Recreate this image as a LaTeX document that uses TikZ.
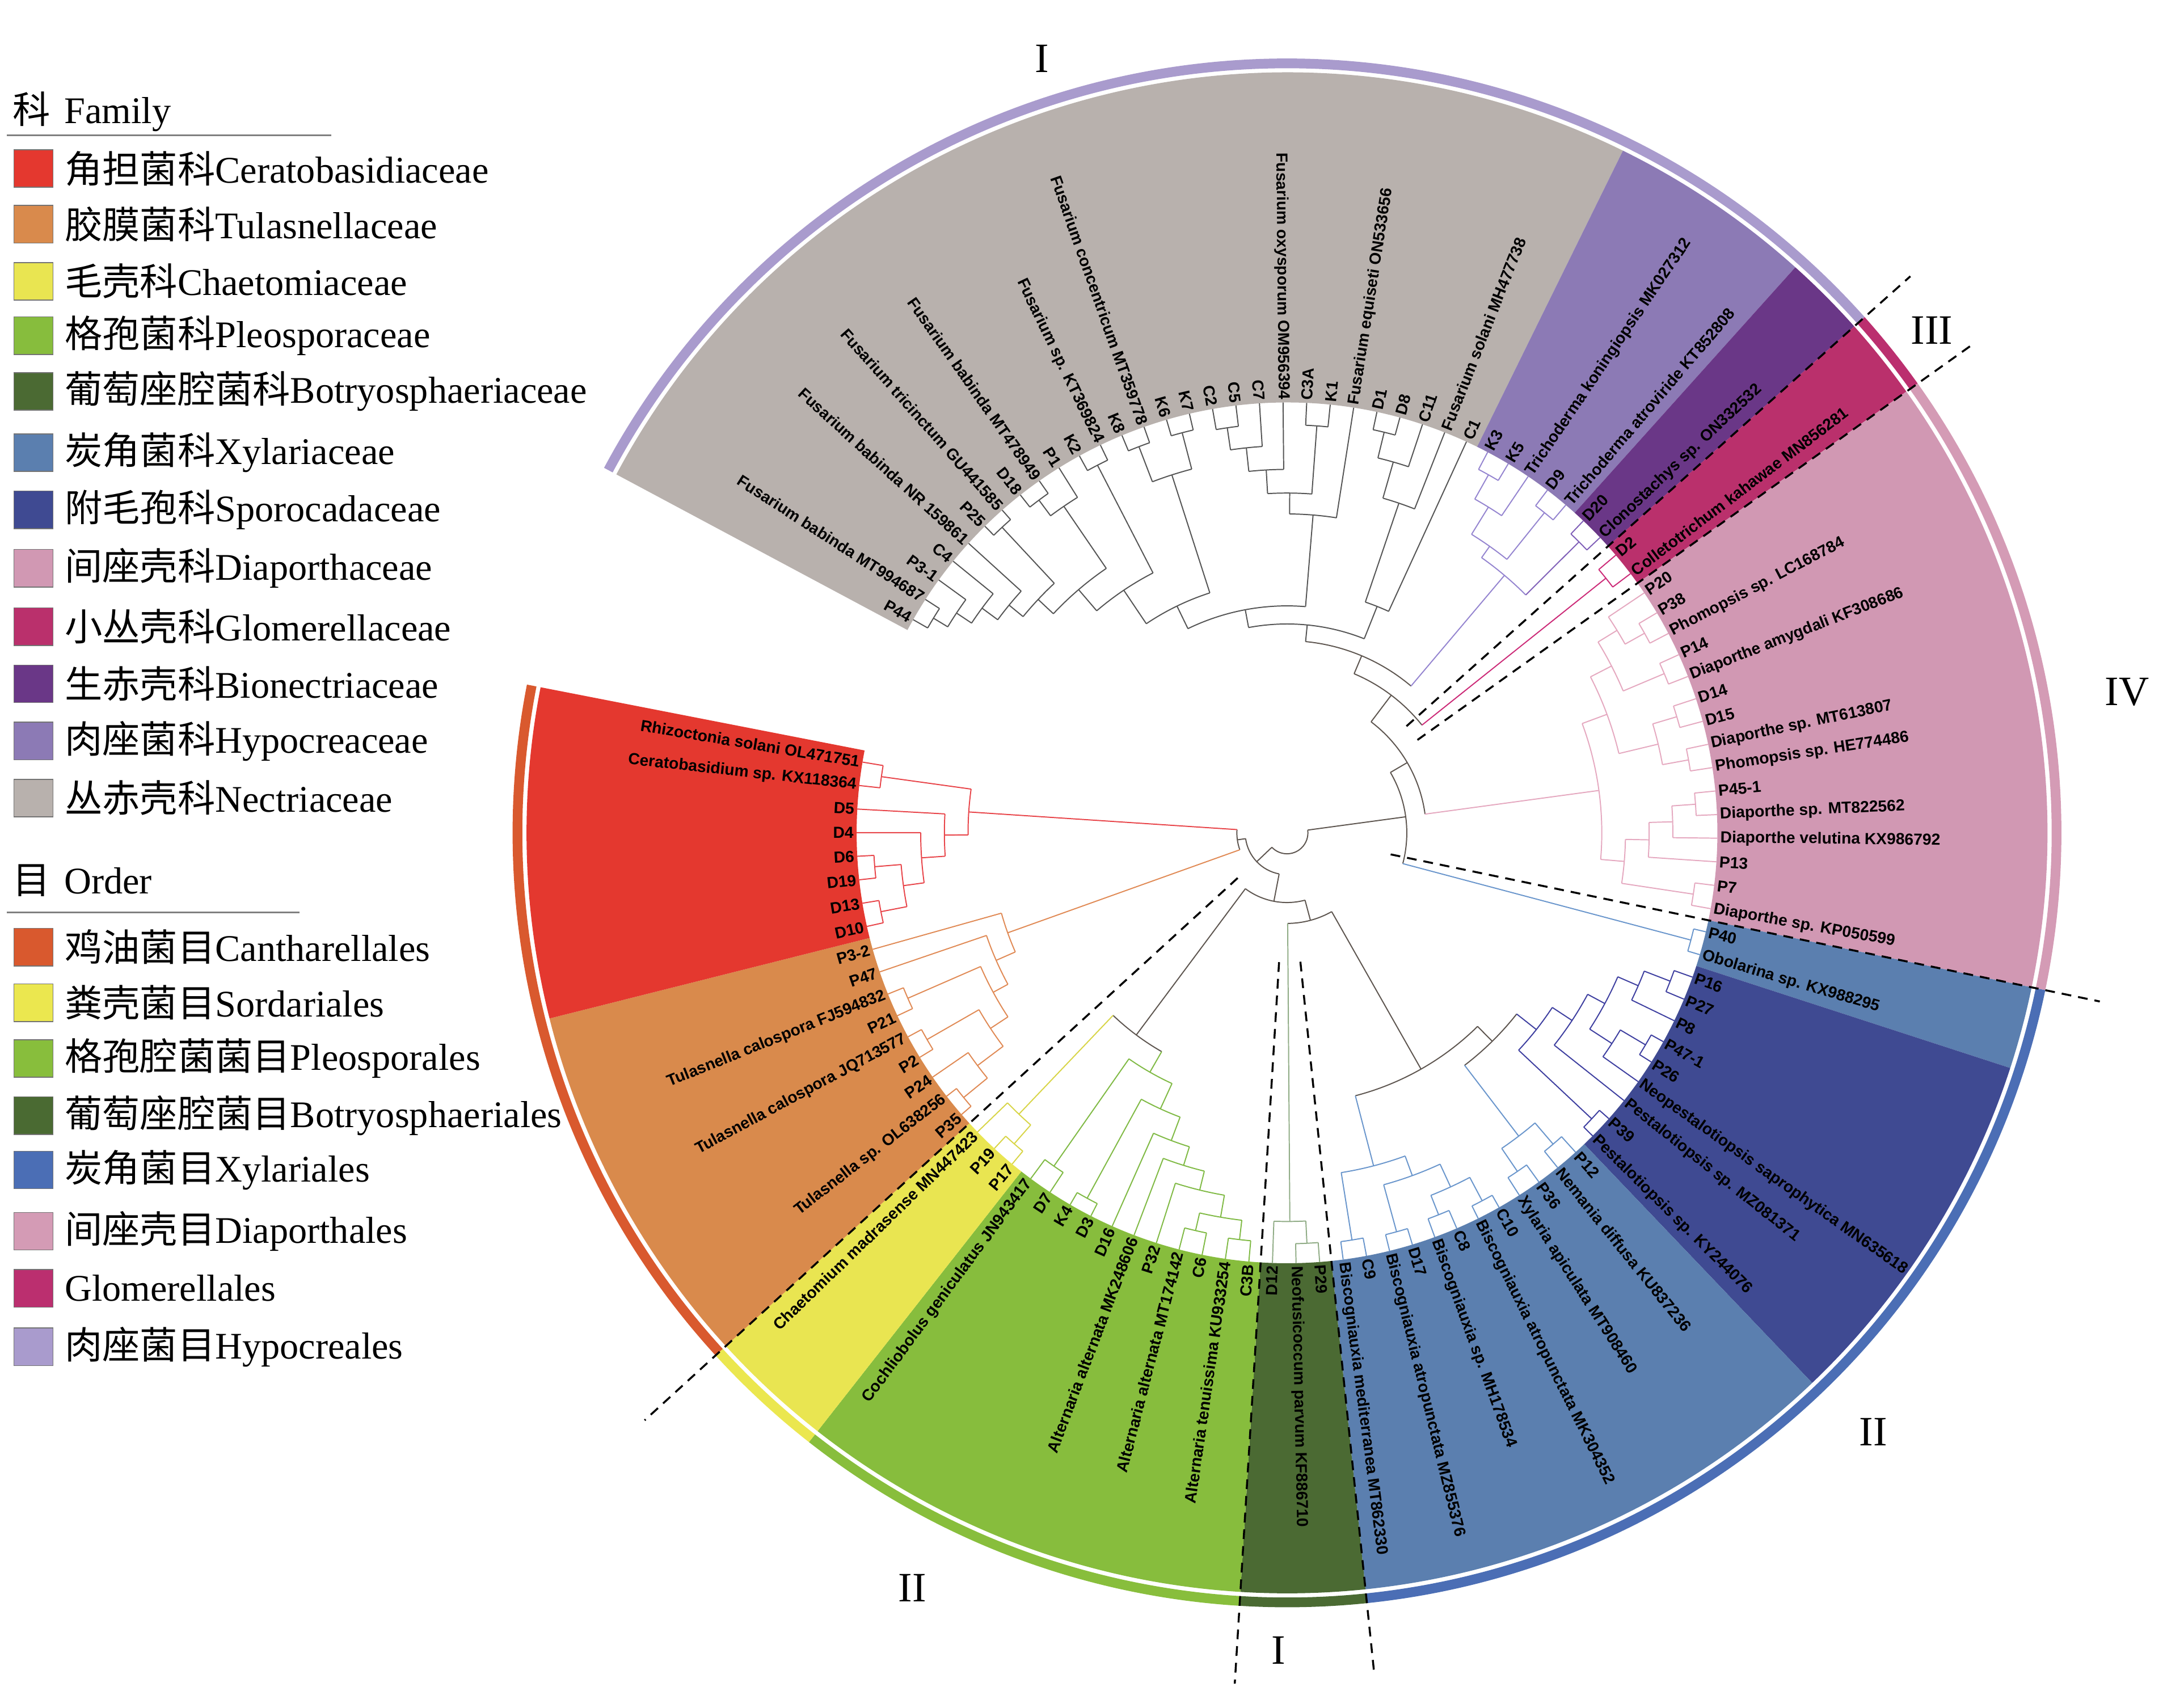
\documentclass[tikz,border=0pt]{standalone}
\usepackage{fontspec}
\setmainfont{Liberation Serif}
\setsansfont{Liberation Sans}
\newfontfamily\cjk{Noto Sans CJK SC}
\usetikzlibrary{positioning}

% family colours (sectors)
\definecolor{fCer}{HTML}{E4382F}
\definecolor{fTul}{HTML}{D98A4C}
\definecolor{fCha}{HTML}{E9E551}
\definecolor{fPle}{HTML}{87BD3D}
\definecolor{fBot}{HTML}{4B6A33}
\definecolor{fXyl}{HTML}{5B7FAF}
\definecolor{fSpo}{HTML}{3F4A92}
\definecolor{fDia}{HTML}{D198B3}
\definecolor{fGlo}{HTML}{BA306C}
\definecolor{fBio}{HTML}{6A3787}
\definecolor{fHyp}{HTML}{8C7AB5}
\definecolor{fNec}{HTML}{B8B1AD}
% order colours (outer ring)
\definecolor{oCan}{HTML}{D9592E}
\definecolor{oSor}{HTML}{EBE74F}
\definecolor{oPle}{HTML}{88BE3C}
\definecolor{oBot}{HTML}{4A6A32}
\definecolor{oXyl}{HTML}{4B6EB5}
\definecolor{oDia}{HTML}{D49BB5}
\definecolor{oGlo}{HTML}{BB2F6F}
\definecolor{oHyp}{HTML}{A99BCD}
% branch colours
\definecolor{brCer}{HTML}{E8454A}
\definecolor{brTul}{HTML}{E08A55}
\definecolor{brCha}{HTML}{D8D548}
\definecolor{brPle}{HTML}{80BA45}
\definecolor{brBot}{HTML}{90AC86}
\definecolor{brXyl}{HTML}{6A96CC}
\definecolor{brSpo}{HTML}{3E3FA0}
\definecolor{brDia}{HTML}{E5A9C0}
\definecolor{brGlo}{HTML}{CC2B78}
\definecolor{brBio}{HTML}{8060B8}
\definecolor{brHyp}{HTML}{9585D0}
\definecolor{brNec}{HTML}{555555}
\definecolor{brMix}{HTML}{5E5650}

% leaf: index, label, branch colour
\newcommand\tleaf[3]{%
  \pgfmathsetmacro\tAng{150.3-3.146*(#1-1)}%
  \expandafter\xdef\csname ta@L#1\endcsname{\tAng}%
  \expandafter\xdef\csname tc@L#1\endcsname{#3}%
  \coordinate (L#1) at (\tAng:309pt);
  \pgfmathsetmacro\tCos{cos(\tAng)}%
  \ifdim\tCos pt<0pt
    \pgfmathsetmacro\tRot{\tAng+180}%
    \node[leaflab, anchor=east, rotate=\tRot] (lab#1) at (\tAng:311pt) {#2};
  \else
    \node[leaflab, anchor=west, rotate=\tAng] (lab#1) at (\tAng:311pt) {#2};
  \fi
}
% clade: name, radius, colour, child a, child b
\newcommand\clade[5]{%
  \edef\tA{\csname ta@#4\endcsname}\edef\tB{\csname ta@#5\endcsname}%
  \edef\tCA{\csname tc@#4\endcsname}\edef\tCB{\csname tc@#5\endcsname}%
  \pgfmathsetmacro\tM{(\tA+\tB)/2}%
  \expandafter\xdef\csname ta@#1\endcsname{\tM}%
  \expandafter\xdef\csname tc@#1\endcsname{#3}%
  \coordinate (#1) at (\tM:#2pt);
  \draw[twig, #3] (\tA:#2pt) arc[start angle=\tA, end angle=\tB, radius=#2pt];
  \draw[twig, \tCA] (\tA:#2pt) -- (#4);
  \draw[twig, \tCB] (\tB:#2pt) -- (#5);
}

\begin{document}
\begin{tikzpicture}[x=1pt, y=1pt,
  leaflab/.style={font=\sffamily\bfseries\fontsize{11.5}{13}\selectfont, inner sep=0pt},
  twig/.style={line width=0.8pt},
  dashcut/.style={black, line width=1.4pt, dash pattern=on 7pt off 5pt},
  grouplab/.style={font=\fontsize{30}{32}\selectfont, inner sep=0pt},
  swatch/.style={minimum width=28pt, minimum height=27pt, inner sep=0pt, draw=black!55, line width=0.6pt},
  legtext/.style={font=\fontsize{27}{31}\selectfont, inner sep=0pt}]
\useasboundingbox (0,0) rectangle (1568,1211);

\begin{scope}[shift={(924,613)}]
% family sectors
\foreach \sa/\sb/\col in {151.873/63.785/fNec, 63.785/48.055/fHyp, 48.055/41.763/fBio,
    41.763/35.471/fGlo, 35.471/-11.719/fDia, -11.719/-18.011/fXyl, -18.011/-46.325/fSpo,
    -46.325/-84.077/fXyl, -84.077/-93.515/fBot, -93.515/-128.121/fPle,
    -128.121/-137.559/fCha, -137.559/-165.873/fTul, -165.873/-191.041/fCer}
  \fill[\col] (\sa:309pt) arc[start angle=\sa, end angle=\sb, radius=309pt]
    -- (\sb:546pt) arc[start angle=\sb, end angle=\sa, radius=546pt] -- cycle;
% order ring
\foreach \sa/\sb/\col in {151.873/41.763/oHyp, 41.763/35.471/oGlo, 35.471/-11.719/oDia,
    -11.719/-84.077/oXyl, -84.077/-93.515/oBot, -93.515/-128.121/oPle,
    -128.121/-137.559/oSor, -137.559/-191.041/oCan}
  \fill[\col] (\sa:549pt) arc[start angle=\sa, end angle=\sb, radius=549pt]
    -- (\sb:556pt) arc[start angle=\sb, end angle=\sa, radius=556pt] -- cycle;
% group borders
\foreach \sa/\ri/\ro in {-137.559/48/625, -93.515/93/612, -84.077/93/607,
    -11.719/76/596, 41.763/115/600, 35.471/115/606}
  \draw[dashcut] (\sa:\ri pt) -- (\sa:\ro pt);

% leaves
\foreach \i/\txt in {1/P44, 2/Fusarium babinda MT994687, 3/P3-1, 4/C4,
    5/Fusarium babinda NR 159861, 6/P25, 7/Fusarium tricinctum GU441585, 8/D18,
    9/Fusarium babinda MT478949, 10/P1, 11/K2, 12/Fusarium sp. KT369824, 13/K8,
    14/Fusarium concentricum MT359778, 15/K6, 16/K7, 17/C2, 18/C5, 19/C7,
    20/Fusarium oxysporum OM956394, 21/C3A, 22/K1, 23/Fusarium equiseti ON533656,
    24/D1, 25/D8, 26/C11, 27/Fusarium solani MH477738, 28/C1}
  {\tleaf{\i}{\txt}{brNec}}
\foreach \i/\txt in {29/K3, 30/K5, 31/Trichoderma koningiopsis MK027312, 32/D9,
    33/Trichoderma atroviride KT852808}
  {\tleaf{\i}{\txt}{brHyp}}
\foreach \i/\txt in {34/D20, 35/Clonostachys sp. ON332532}
  {\tleaf{\i}{\txt}{brBio}}
\foreach \i/\txt in {36/D2, 37/Colletotrichum kahawae MN856281}
  {\tleaf{\i}{\txt}{brGlo}}
\foreach \i/\txt in {38/P20, 39/P38, 40/Phomopsis sp. LC168784, 41/P14,
    42/Diaporthe amygdali KF308686, 43/D14, 44/D15, 45/Diaporthe sp. MT613807,
    46/Phomopsis sp. HE774486, 47/P45-1, 48/Diaporthe sp. MT822562,
    49/Diaporthe velutina KX986792, 50/P13, 51/P7, 52/Diaporthe sp. KP050599}
  {\tleaf{\i}{\txt}{brDia}}
\foreach \i/\txt in {53/P40, 54/Obolarina sp. KX988295}
  {\tleaf{\i}{\txt}{brXyl}}
\foreach \i/\txt in {55/P16, 56/P27, 57/P8, 58/P47-1, 59/P26,
    60/Neopestalotiopsis saprophytica MN635618, 61/Pestalotiopsis sp. MZ081371,
    62/P39, 63/Pestalotiopsis sp. KY244076}
  {\tleaf{\i}{\txt}{brSpo}}
\foreach \i/\txt in {64/P12, 65/Nemania diffusa KU837236, 66/P36,
    67/Xylaria apiculata MT908460, 68/C10, 69/Biscogniauxia atropunctata MK304352,
    70/C8, 71/Biscogniauxia sp. MH178534, 72/D17,
    73/Biscogniauxia atropunctata MZ855376, 74/C9,
    75/Biscogniauxia mediterranea MT862330}
  {\tleaf{\i}{\txt}{brXyl}}
\foreach \i/\txt in {76/P29, 77/Neofusicoccum parvum KF886710, 78/D12}
  {\tleaf{\i}{\txt}{brBot}}
\foreach \i/\txt in {79/C3B, 80/Alternaria tenuissima KU933254, 81/C6,
    82/Alternaria alternata MT174142, 83/P32, 84/Alternaria alternata MK248606,
    85/D16, 86/D3, 87/K4, 88/D7, 89/Cochliobolus geniculatus JN943417}
  {\tleaf{\i}{\txt}{brPle}}
\foreach \i/\txt in {90/P17, 91/P19, 92/Chaetomium madrasense MN447423}
  {\tleaf{\i}{\txt}{brCha}}
\foreach \i/\txt in {93/P35, 94/Tulasnella sp. OL638256, 95/P24, 96/P2,
    97/Tulasnella calospora JQ713577, 98/P21, 99/Tulasnella calospora FJ594832,
    100/P47, 101/P3-2}
  {\tleaf{\i}{\txt}{brTul}}
\foreach \i/\txt in {102/D10, 103/D13, 104/D19, 105/D6, 106/D4, 107/D5,
    108/Ceratobasidium sp. KX118364, 109/Rhizoctonia solani OL471751}
  {\tleaf{\i}{\txt}{brCer}}

% Ceratobasidiaceae
\clade{Ce1}{294}{brCer}{L109}{L108}
\clade{Ce2}{297}{brCer}{L105}{L104}
\clade{Ce3}{297}{brCer}{L103}{L102}
\clade{Ce4}{278}{brCer}{Ce2}{Ce3}
\clade{Ce5}{263}{brCer}{L106}{Ce4}
\clade{Ce6}{246}{brCer}{L107}{Ce5}
\clade{Ce7}{229}{brCer}{Ce1}{Ce6}
% Tulasnellaceae
\clade{Tu1}{300}{brTul}{L93}{L94}
\clade{Tu2}{278}{brTul}{L95}{Tu1}
\clade{Tu3}{298}{brTul}{L96}{L97}
\clade{Tu4}{255}{brTul}{Tu3}{Tu2}
\clade{Tu5}{297}{brTul}{L98}{L99}
\clade{Tu6}{240}{brTul}{Tu5}{Tu4}
\clade{Tu7}{228}{brTul}{L100}{Tu6}
\clade{Tu8}{213}{brTul}{L101}{Tu7}
% Chaetomiaceae
\clade{Ch1}{297}{brCha}{L90}{L91}
\clade{Ch2}{279}{brCha}{Ch1}{L92}
% Pleosporaceae
\clade{Pl1}{294}{brPle}{L79}{L80}
\clade{Pl2}{293}{brPle}{L81}{L82}
\clade{Pl3}{280}{brPle}{Pl2}{Pl1}
\clade{Pl4}{264}{brPle}{L83}{Pl3}
\clade{Pl5}{250}{brPle}{L84}{Pl4}
\clade{Pl6}{236}{brPle}{L85}{Pl5}
\clade{Pl7}{299}{brPle}{L86}{L87}
\clade{Pl8}{218}{brPle}{Pl7}{Pl6}
\clade{Pl9}{292}{brPle}{L88}{L89}
\clade{Pl10}{198}{brPle}{Pl9}{Pl8}
% Botryosphaeriaceae
\clade{Bo1}{295}{brBot}{L76}{L77}
\clade{Bo2}{279}{brBot}{Bo1}{L78}
% Xylariaceae
\clade{Xy1}{296}{brXyl}{L74}{L75}
\clade{Xy2}{297}{brXyl}{L72}{L73}
\clade{Xy3}{295}{brXyl}{L70}{L71}
\clade{Xy4}{299}{brXyl}{L68}{L69}
\clade{Xy5}{280}{brXyl}{Xy3}{Xy4}
\clade{Xy6}{262}{brXyl}{Xy2}{Xy5}
\clade{Xy7}{247}{brXyl}{Xy1}{Xy6}
\clade{Xy8}{294}{brXyl}{L66}{L67}
\clade{Xy9}{294}{brXyl}{L64}{L65}
\clade{Xy10}{274}{brXyl}{Xy8}{Xy9}
% Sporocadaceae
\clade{Sp1}{295}{brSpo}{L55}{L56}
\clade{Sp2}{275}{brSpo}{Sp1}{L57}
\clade{Sp3}{299}{brSpo}{L58}{L59}
\clade{Sp4}{278}{brSpo}{Sp3}{L60}
\clade{Sp5}{259}{brSpo}{Sp2}{Sp4}
\clade{Sp6}{245}{brSpo}{Sp5}{L61}
\clade{Sp7}{300}{brSpo}{L62}{L63}
\clade{Sp8}{228}{brSpo}{Sp6}{Sp7}
\clade{XS2}{210}{brMix}{Xy10}{Sp8}
\clade{XS}{195}{brMix}{Xy7}{XS2}
\clade{Ob1}{300}{brXyl}{L53}{L54}
% Diaporthaceae
\clade{Dp1}{294}{brDia}{L39}{L40}
\clade{Dp2}{278}{brDia}{L38}{Dp1}
\clade{Dp3}{294}{brDia}{L41}{L42}
\clade{Dp4}{262}{brDia}{Dp2}{Dp3}
\clade{Dp5}{292}{brDia}{L43}{L44}
\clade{Dp6}{293}{brDia}{L45}{L46}
\clade{Dp7}{274}{brDia}{Dp5}{Dp6}
\clade{Dp8}{245}{brDia}{Dp4}{Dp7}
\clade{Dp9}{294}{brDia}{L47}{L48}
\clade{Dp10}{277}{brDia}{Dp9}{L49}
\clade{Dp11}{260}{brDia}{Dp10}{L50}
\clade{Dp12}{295}{brDia}{L51}{L52}
\clade{Dp13}{243}{brDia}{Dp11}{Dp12}
\clade{Dp14}{226}{brDia}{Dp8}{Dp13}
% Glomerellaceae, Bionectriaceae, Hypocreaceae
\clade{Gl1}{293}{brGlo}{L36}{L37}
\clade{Bi1}{296}{brBio}{L34}{L35}
\clade{Hy1}{295}{brHyp}{L29}{L30}
\clade{Hy2}{275}{brHyp}{Hy1}{L31}
\clade{Hy3}{295}{brHyp}{L32}{L33}
\clade{Hy4}{252}{brHyp}{Hy2}{Hy3}
\clade{HB}{242}{brHyp}{Hy4}{Bi1}
% Nectriaceae
\clade{Ne1}{297}{brNec}{L1}{L2}
\clade{Ne2}{285}{brNec}{Ne1}{L3}
\clade{Ne3}{272}{brNec}{Ne2}{L4}
\clade{Ne4}{258}{brNec}{Ne3}{L5}
\clade{Ne5}{300}{brNec}{L6}{L7}
\clade{Ne6}{245}{brNec}{Ne4}{Ne5}
\clade{Ne7}{298}{brNec}{L8}{L9}
\clade{Ne8}{284}{brNec}{Ne7}{L10}
\clade{Ne9}{230}{brNec}{Ne6}{Ne8}
\clade{Ne10}{297}{brNec}{L11}{L12}
\clade{Ne11}{210}{brNec}{Ne9}{Ne10}
\clade{Ne12}{297}{brNec}{L13}{L14}
\clade{Ne13}{297}{brNec}{L15}{L16}
\clade{Ne14}{270}{brNec}{Ne12}{Ne13}
\clade{Ne15}{181}{brNec}{Ne11}{Ne14}
\clade{Ne16}{294}{brNec}{L17}{L18}
\clade{Ne17}{278}{brNec}{Ne16}{L19}
\clade{Ne18}{261}{brNec}{Ne17}{L20}
\clade{Ne19}{293}{brNec}{L21}{L22}
\clade{Ne20}{244}{brNec}{Ne18}{Ne19}
\clade{Ne21}{229}{brNec}{Ne20}{L23}
\clade{Ne22}{163}{brNec}{Ne15}{Ne21}
\clade{Ne23}{296}{brNec}{L24}{L25}
\clade{Ne24}{277}{brNec}{Ne23}{L26}
\clade{Ne25}{250}{brNec}{Ne24}{L27}
\clade{Ne26}{175}{brNec}{Ne25}{L28}
\clade{Ne27}{150}{brNec}{Ne22}{Ne26}
% backbone
\clade{NHB}{138}{brMix}{Ne27}{HB}
\clade{NHG}{124}{brMix}{NHB}{Gl1}
\clade{NHD}{100}{brMix}{NHG}{Dp14}
\clade{NX}{86}{brMix}{NHD}{Ob1}
\clade{CT}{36}{brMix}{Ce7}{Tu8}
\clade{SP}{181}{brMix}{Ch2}{Pl10}
\clade{N65}{65}{brMix}{Bo2}{XS}
\clade{N50}{50}{brMix}{SP}{N65}
\clade{N34}{30}{brMix}{CT}{N50}
\clade{Root}{15}{brMix}{N34}{NX}
\end{scope}

% group numerals
\node[grouplab] (gI) at (748,1169) {I};
\node[grouplab] (gIII) at (1387,974) {III};
\node[grouplab] (gIV) at (1527,714) {IV};
\node[grouplab] (gIIr) at (1345,183) {II};
\node[grouplab] (gIb) at (918,26) {I};
\node[grouplab] (gIIl) at (655,71) {II};

% legend: families
\node[legtext, anchor=west] (famtitle) at (9,1131) {{\cjk 科}\hspace{10pt}Family};
\draw[gray, line width=1.2pt] (5,1114) -- (238,1114);
\foreach \y/\col/\txt [count=\n] in {1090/fCer/{{\cjk 角担菌科}Ceratobasidiaceae},
    1050/fTul/{{\cjk 胶膜菌科}Tulasnellaceae}, 1009/fCha/{{\cjk 毛壳科}Chaetomiaceae},
    970/fPle/{{\cjk 格孢菌科}Pleosporaceae}, 930/fBot/{{\cjk 葡萄座腔菌科}Botryosphaeriaceae},
    886/fXyl/{{\cjk 炭角菌科}Xylariaceae}, 845/fSpo/{{\cjk 附毛孢科}Sporocadaceae},
    803/fDia/{{\cjk 间座壳科}Diaporthaceae}, 761/fGlo/{{\cjk 小丛壳科}Glomerellaceae},
    720/fBio/{{\cjk 生赤壳科}Bionectriaceae}, 679/fHyp/{{\cjk 肉座菌科}Hypocreaceae},
    638/fNec/{{\cjk 丛赤壳科}Nectriaceae}}
{
  \node[swatch, fill=\col] (fs\n) at (24,\y) {};
  \node[legtext, right=8pt of fs\n] (ft\n) {\txt};
}
% legend: orders
\node[legtext, anchor=west] (ordtitle) at (9,579) {{\cjk 目}\hspace{10pt}Order};
\draw[gray, line width=1.2pt] (5,556) -- (215,556);
\foreach \y/\col/\txt [count=\n] in {531/oCan/{{\cjk 鸡油菌目}Cantharellales},
    491/oSor/{{\cjk 粪壳菌目}Sordariales}, 451/oPle/{{\cjk 格孢腔菌菌目}Pleosporales},
    410/oBot/{{\cjk 葡萄座腔菌目}Botryosphaeriales}, 371/oXyl/{{\cjk 炭角菌目}Xylariales},
    327/oDia/{{\cjk 间座壳目}Diaporthales}, 286/oGlo/{Glomerellales},
    244/oHyp/{{\cjk 肉座菌目}Hypocreales}}
{
  \node[swatch, fill=\col] (os\n) at (24,\y) {};
  \node[legtext, right=8pt of os\n] (ot\n) {\txt};
}
\end{tikzpicture}
\end{document}
